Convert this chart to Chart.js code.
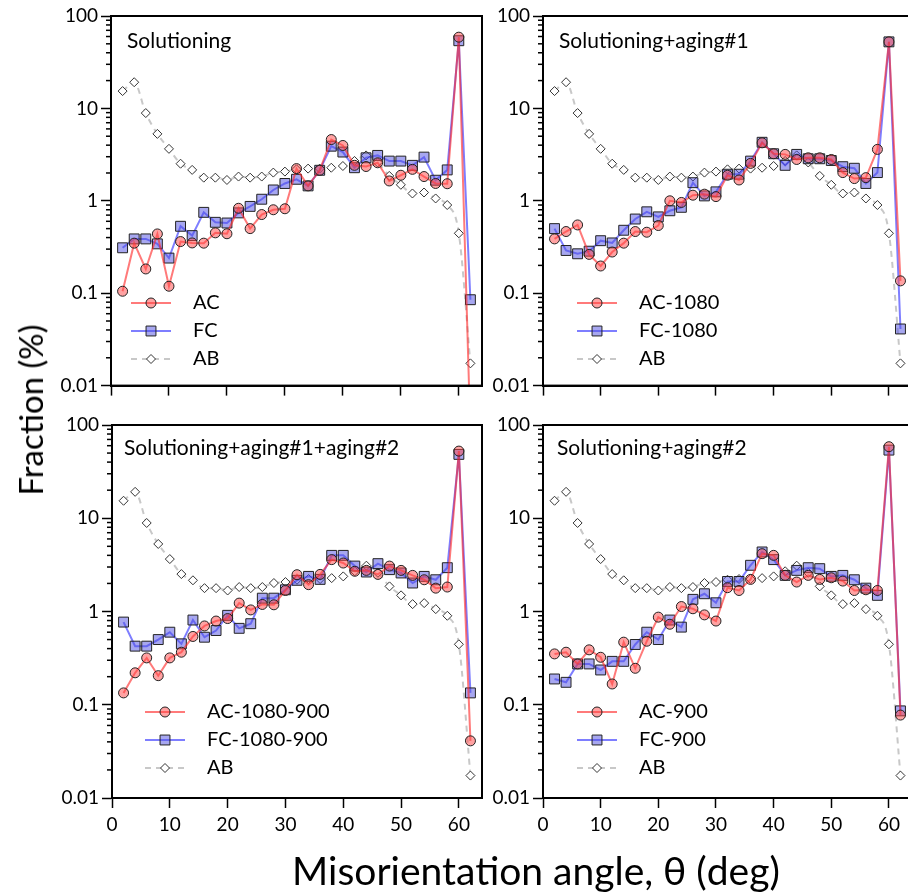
<!DOCTYPE html>
<html>
<head>
<meta charset="utf-8">
<script src="https://cdn.jsdelivr.net/npm/chart.js@4.4.1/dist/chart.umd.min.js"></script>
<style>
  html, body { margin: 0; padding: 0; background: #fff; }
  body { width: 908px; height: 892px; overflow: hidden; position: relative; font-family: Lato, "Open Sans", sans-serif; }
  .box { position: absolute; overflow: hidden; }
  canvas { position: absolute; left: 0; top: 0; }
  .ttl { position: absolute; color: #000; white-space: nowrap; }
</style>
</head>
<body>
<div class="box" style="left:0;top:0;width:490px;height:400px"><canvas id="p1" width="490" height="400"></canvas></div>
<div class="box" style="left:490px;top:0;width:418px;height:400px"><canvas id="p2" width="430" height="400"></canvas></div>
<div class="box" style="left:0;top:400px;width:490px;height:460px"><canvas id="p3" width="490" height="460"></canvas></div>
<div class="box" style="left:490px;top:400px;width:418px;height:460px"><canvas id="p4" width="430" height="460"></canvas></div>
<div class="ttl" id="ytitle" style="font-size:33px;left:30px;top:410px;transform:translate(-50%,-50%) rotate(-90deg)">Fraction (%)</div>
<div class="ttl" id="xtitle" style="font-size:39px;left:536px;top:870px;transform:translate(-50%,-50%)">Misorientation angle, θ (deg)</div>
<script>
// misorientation angle bins (deg)
var angles = [2,4,6,8,10,12,14,16,18,20,22,24,26,28,30,32,34,36,38,40,42,44,46,48,50,52,54,56,58,60,62]

// as-built reference, same in every panel
var ab = [15.4,19.2,8.9,5.3,3.65,2.52,2.16,1.78,1.78,1.68,1.83,1.78,1.83,2.02,2.07,2.19,2.23,2.23,2.28,2.38,2.7,3.1,2.6,1.86,1.49,1.2,1.23,1.06,0.9,0.445,0.0174]

var acSol = [0.105,0.348,0.183,0.438,0.119,0.362,0.35,0.348,0.45,0.44,0.83,0.50,0.71,0.80,0.82,2.23,1.45,2.14,4.6,3.97,2.42,2.35,2.58,1.64,1.89,2.19,1.83,1.54,1.53,59,0.003]
var fcSol = [0.31,0.387,0.387,0.342,0.24,0.53,0.42,0.75,0.585,0.575,0.74,0.87,1.04,1.31,1.54,1.71,1.45,2.14,3.9,3.37,2.28,2.92,3.1,2.69,2.69,2.42,2.97,1.67,2.16,54,0.085]

var ac1080 = [0.387,0.465,0.548,0.263,0.197,0.279,0.348,0.465,0.457,0.54,1.0,0.96,1.15,1.18,1.11,1.89,1.68,2.54,4.24,3.23,3.18,2.8,2.92,2.92,2.8,2.02,1.74,1.78,3.6,52.5,0.136]
var fc1080 = [0.50,0.29,0.267,0.285,0.37,0.35,0.48,0.635,0.76,0.67,0.78,0.85,1.57,1.13,1.25,1.94,1.94,2.69,4.3,3.23,2.42,3.18,2.85,2.85,2.73,2.34,2.25,1.54,2.02,52.5,0.041]

var ac1080_900 = [0.134,0.22,0.318,0.205,0.318,0.366,0.54,0.70,0.79,0.84,1.23,1.04,1.19,1.18,1.68,2.48,1.94,2.5,3.6,3.31,2.7,2.76,2.5,3.07,2.76,2.44,2.19,1.78,1.83,52.5,0.041]
var fc1080_900 = [0.77,0.425,0.425,0.50,0.60,0.45,0.81,0.53,0.625,0.91,0.66,0.74,1.39,1.39,1.71,2.16,2.38,2.21,4.0,4.0,3.07,2.65,3.26,2.81,2.59,2.02,2.38,2.19,2.95,48.4,0.134]

var ac900 = [0.351,0.366,0.274,0.388,0.323,0.167,0.469,0.246,0.48,0.87,0.73,1.13,1.07,0.92,0.79,1.8,1.68,2.21,4.17,4.0,2.44,2.07,2.44,2.21,2.3,2.12,1.68,1.71,1.68,58.5,0.0775]
var fc900 = [0.189,0.174,0.274,0.274,0.236,0.292,0.292,0.443,0.60,0.50,0.81,0.68,1.35,1.55,1.24,2.1,2.1,3.13,4.35,3.6,2.44,2.76,2.95,2.88,2.38,2.44,2.19,1.78,1.49,53.8,0.086]

var xTicks = [0,10,20,30,40,50,60]
var yTicks = [0.01,0.1,1,10,100]
var yTickLabels = ['0.01','0.1','1','10','100']

var panelTitles = ['Solutioning','Solutioning+aging#1','Solutioning+aging#1+aging#2','Solutioning+aging#2']
var acLabels = ['AC','AC-1080','AC-1080-900','AC-900']
var fcLabels = ['FC','FC-1080','FC-1080-900','FC-900']

var FONT = 'Lato, "Open Sans", sans-serif'

function drawMarker(ctx, style, r, x, y){
    ctx.beginPath()
    if(style == 'circle'){
        ctx.arc(x, y, r, 0, Math.PI*2)
    } else if(style == 'rect'){
        var s = Math.SQRT1_2 * r
        ctx.rect(x - s, y - s, 2*s, 2*s)
    } else {
        ctx.moveTo(x, y - r); ctx.lineTo(x + r, y); ctx.lineTo(x, y + r); ctx.lineTo(x - r, y); ctx.closePath()
    }
    ctx.fill()
    ctx.stroke()
}

// panel label, in-plot legend, closed frame and log minor ticks
var panelDeco = {
    id: 'panelDeco',
    afterDatasetsDraw(chart, args, o){
        var ctx = chart.ctx
        var a = chart.chartArea
        ctx.save()
        ctx.fillStyle = '#000'
        ctx.textAlign = 'left'
        ctx.textBaseline = 'middle'
        ctx.font = '21px ' + FONT
        ctx.fillText(o.title, a.left + o.titleX, a.top + o.titleY)

        chart.data.datasets.forEach(function(ds, i){
            var y = a.top + 287 + i*28
            var x0 = a.left + o.legX
            ctx.strokeStyle = ds.borderColor
            ctx.lineWidth = ds.borderWidth
            ctx.setLineDash(ds.borderDash || [])
            ctx.beginPath(); ctx.moveTo(x0, y); ctx.lineTo(x0 + 40, y); ctx.stroke()
            ctx.setLineDash([])
            ctx.fillStyle = ds.pointBackgroundColor
            ctx.strokeStyle = ds.pointBorderColor
            ctx.lineWidth = ds.pointBorderWidth
            drawMarker(ctx, ds.pointStyle, ds.pointRadius, x0 + 20, y)
            ctx.fillStyle = '#000'
            ctx.font = '20px ' + FONT
            ctx.fillText(ds.label, a.left + o.textX, y)
        })

        ctx.strokeStyle = '#000'
        ctx.lineWidth = 2
        ctx.strokeRect(a.left, a.top, a.right - a.left, a.bottom - a.top)

        var ys = chart.scales.y
        ctx.lineWidth = 1.5
        for(var d = -2; d < 2; d++){
            for(var m = 2; m < 10; m++){
                var py = ys.getPixelForValue(m * Math.pow(10, d))
                ctx.beginPath(); ctx.moveTo(a.left - 5, py); ctx.lineTo(a.left, py); ctx.stroke()
            }
        }
        ctx.restore()
    }
}

function makePanel(id, n, ac, fc, cfg){
    var ctx = document.getElementById(id).getContext('2d')
    return new Chart(ctx, {
        type: 'line',
        data: {
            labels: angles,
            datasets: [
                {
                    label: acLabels[n],
                    data: ac,
                    borderColor: 'rgba(255,40,40,0.62)',
                    borderWidth: 2,
                    pointStyle: 'circle',
                    pointRadius: 5,
                    pointBackgroundColor: 'rgba(255,70,70,0.5)',
                    pointBorderColor: '#222',
                    pointBorderWidth: 1,
                    lineTension: 0
                },
                {
                    label: fcLabels[n],
                    data: fc,
                    borderColor: 'rgba(40,40,255,0.6)',
                    borderWidth: 2,
                    pointStyle: 'rect',
                    pointRadius: 7,
                    pointBackgroundColor: 'rgba(80,80,225,0.5)',
                    pointBorderColor: '#222',
                    pointBorderWidth: 1,
                    lineTension: 0
                },
                {
                    label: 'AB',
                    data: ab,
                    borderColor: '#c8c8c8',
                    borderWidth: 2,
                    borderDash: [6,5],
                    pointStyle: 'rectRot',
                    pointRadius: 4.5,
                    pointBackgroundColor: '#fff',
                    pointBorderColor: '#333',
                    pointBorderWidth: 1,
                    cubicInterpolationMode: 'monotone'
                }
            ]
        },
        options: {
            responsive: false,
            animation: false,
            layout: { padding: { top: cfg.top, right: cfg.right, left: 0, bottom: 0 } },
            plugins: {
                legend: { display: false },
                tooltip: { enabled: false },
                panelDeco: { title: panelTitles[n], titleX: cfg.titleX, titleY: cfg.titleY, legX: cfg.legX, textX: cfg.textX }
            },
            scales: {
                x: {
                    type: 'linear',
                    min: 0,
                    max: 64,
                    afterBuildTicks: function(s){ s.ticks = xTicks.map(function(v){ return {value: v} }) },
                    afterFit: function(s){ s.height = cfg.xh },
                    border: { color: '#000', width: 2 },
                    grid: { display: true, drawOnChartArea: false, tickLength: 10, tickWidth: 1.5, color: '#000' },
                    ticks: { display: cfg.xlabels, padding: 5, color: '#000', font: { family: FONT, size: 19 }, maxRotation: 0 }
                },
                y: {
                    type: 'logarithmic',
                    min: 0.01,
                    max: 100,
                    afterBuildTicks: function(s){ s.ticks = yTicks.map(function(v){ return {value: v} }) },
                    afterFit: function(s){ s.width = cfg.yw },
                    border: { color: '#000', width: 2 },
                    grid: { display: true, drawOnChartArea: false, tickLength: 10, tickWidth: 1.5, color: '#000' },
                    ticks: {
                        padding: 3,
                        color: '#000',
                        font: { family: FONT, size: 19 },
                        callback: function(v){ var i = yTicks.indexOf(v); return i >= 0 ? yTickLabels[i] : '' }
                    }
                }
            }
        },
        plugins: [panelDeco]
    })
}

makePanel('p1', 0, acSol, fcSol, { top: 16, right: 7, yw: 111, xh: 12, xlabels: false, titleX: 16, titleY: 25, legX: 20, textX: 82 })
makePanel('p2', 1, ac1080, fc1080, { top: 16, right: 5, yw: 53, xh: 12, xlabels: false, titleX: 16, titleY: 25, legX: 34, textX: 96 })
makePanel('p3', 2, ac1080_900, fc1080_900, { top: 25, right: 6, yw: 112, xh: 62, xlabels: true, titleX: 12, titleY: 23, legX: 33, textX: 95 })
makePanel('p4', 3, ac900, fc900, { top: 25, right: 5, yw: 53, xh: 62, xlabels: true, titleX: 14, titleY: 23, legX: 34, textX: 96 })
</script>
</body>
</html>
